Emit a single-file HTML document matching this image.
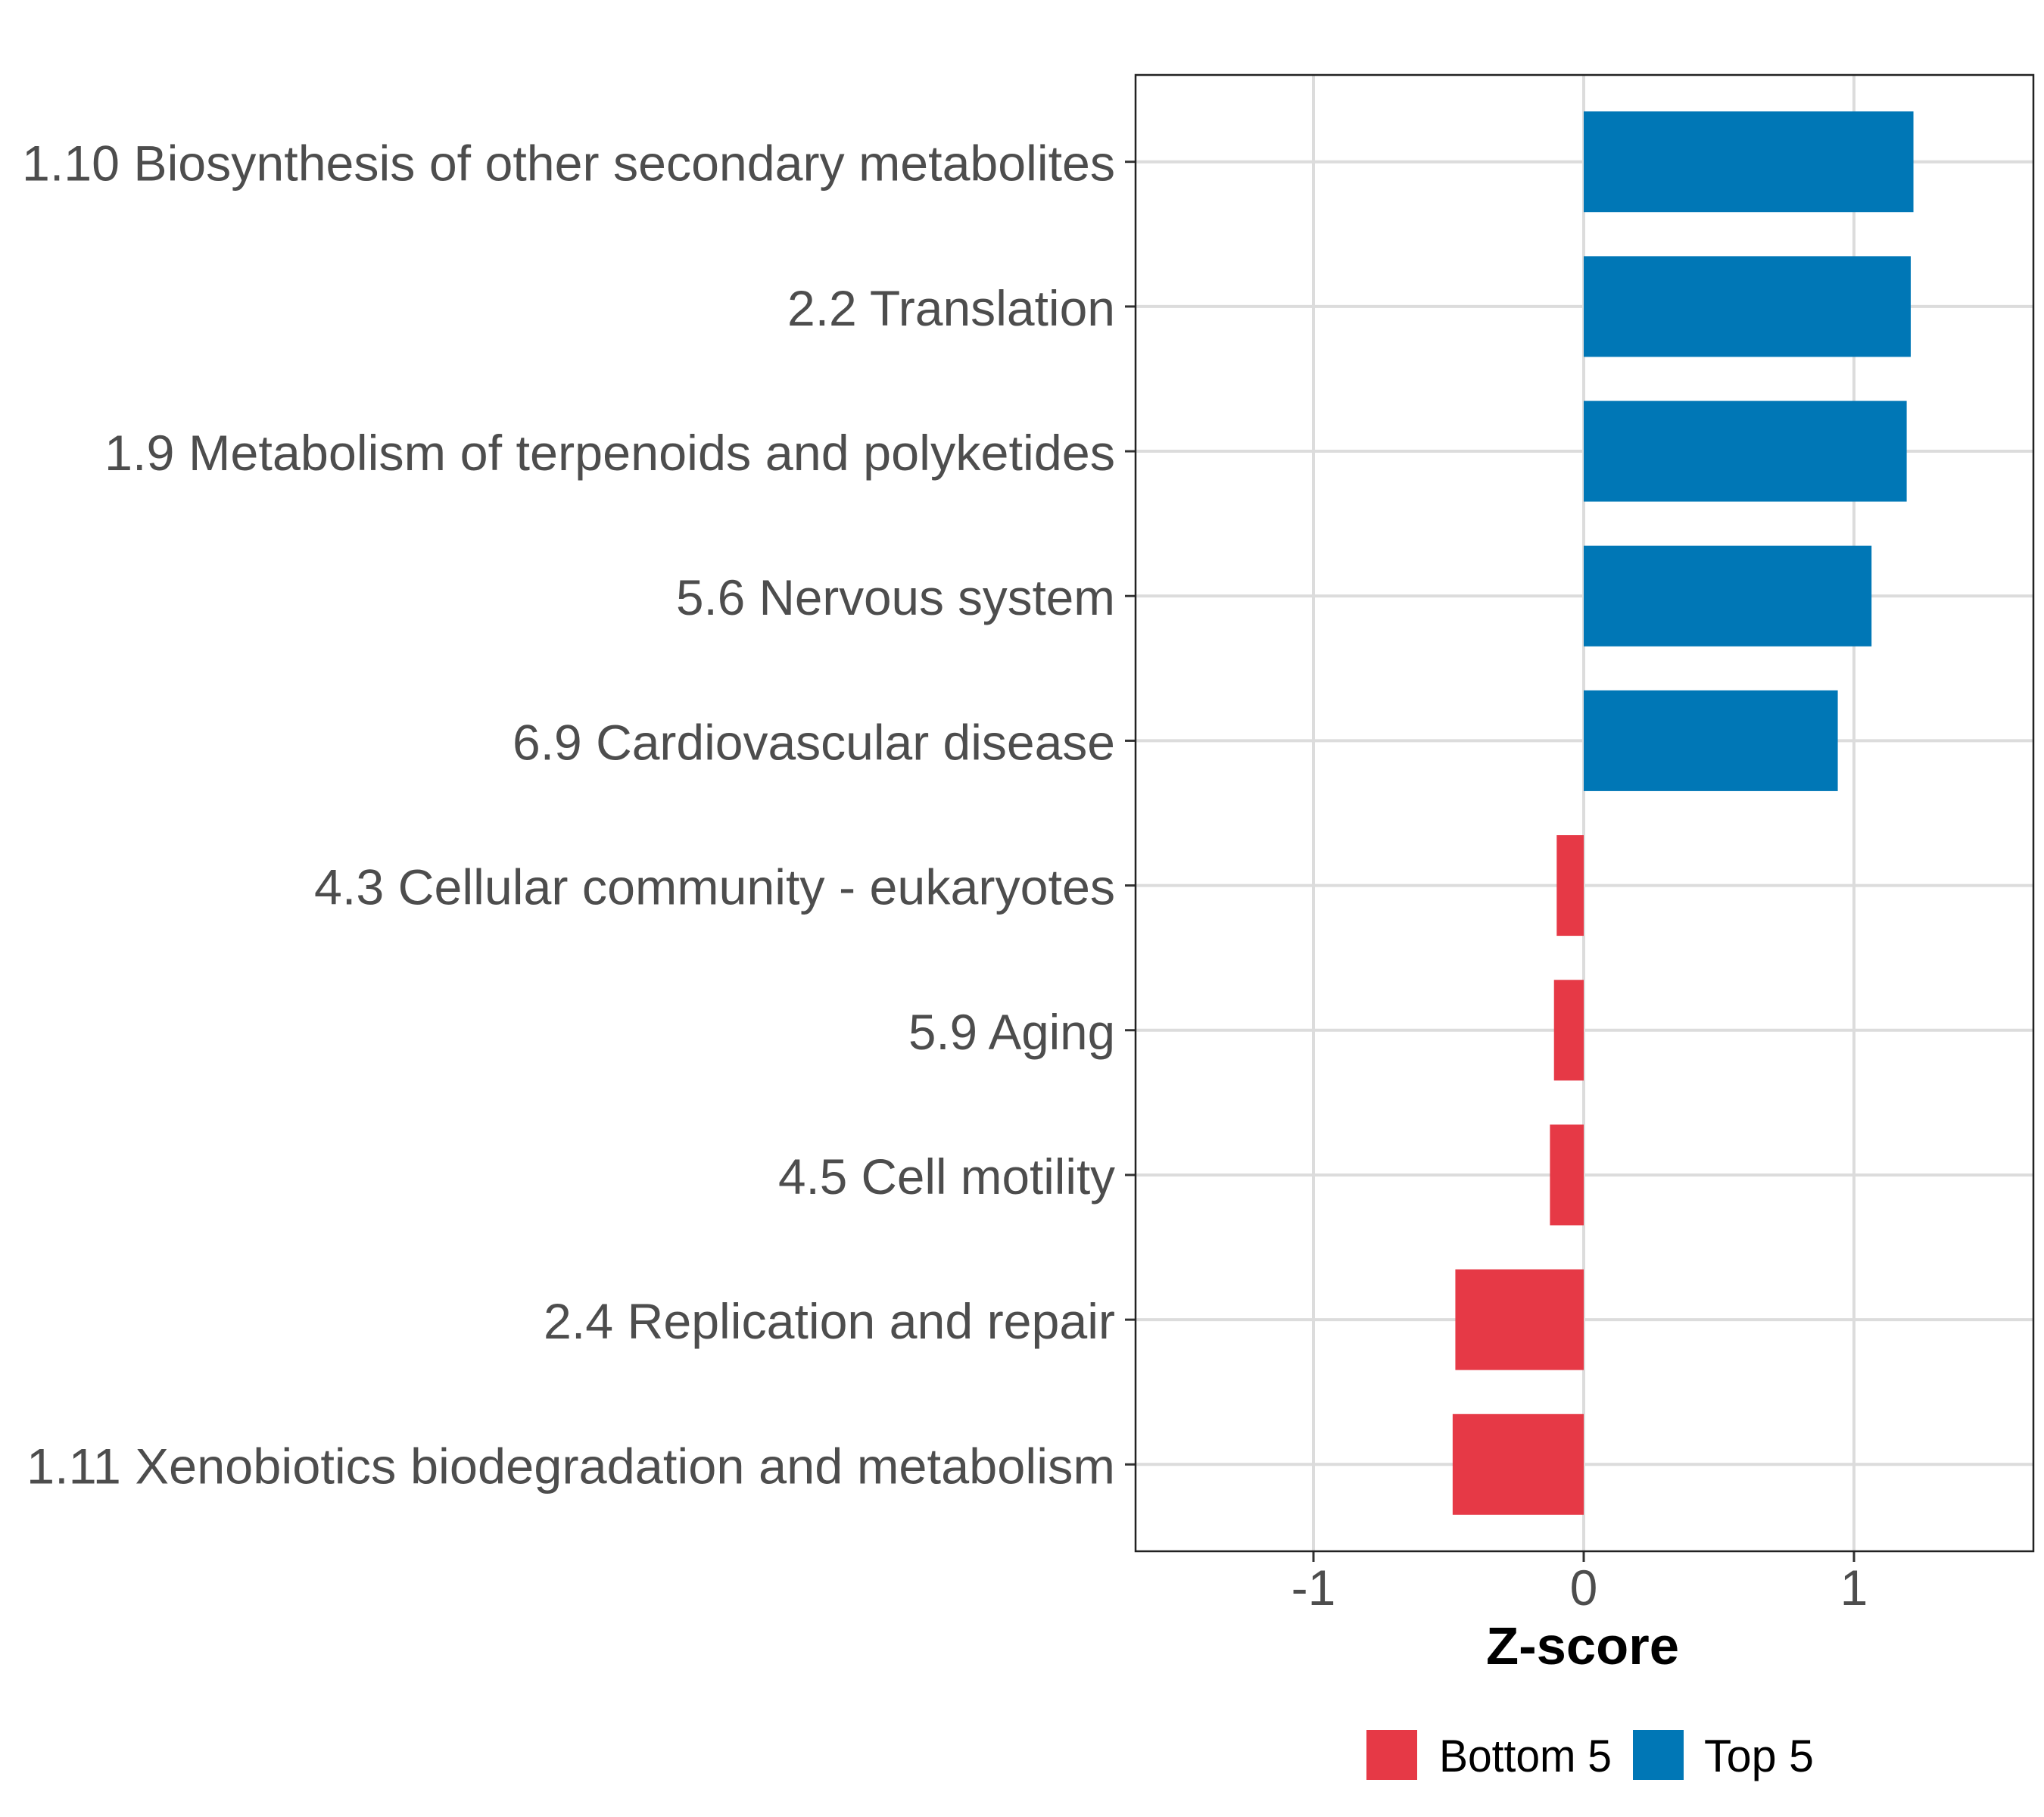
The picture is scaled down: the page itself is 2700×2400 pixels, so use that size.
<!DOCTYPE html>
<html><head><meta charset="utf-8"><style>
html,body{margin:0;padding:0;background:#fff;}
svg{display:block;font-family:"Liberation Sans",Arial,sans-serif;}
</style></head><body>
<svg id="chart" width="2700" height="2400" viewBox="0 0 2700 2400">
<rect x="0" y="0" width="2700" height="2400" fill="#fff"/>
<g id="grid"></g><g id="bars"></g><g id="yaxis"></g><g id="xaxis"></g>
<rect x="1500" y="99" width="1186" height="1950" fill="none" stroke="#222" stroke-width="2.5"/>
<text x="1963" y="2198" font-size="70" font-weight="bold" textLength="255" lengthAdjust="spacingAndGlyphs" fill="#000">Z-score</text>
<g>
<rect x="1805" y="2285" width="67" height="66" fill="#E63946"/>
<text x="1901" y="2340" font-size="60" textLength="228" lengthAdjust="spacingAndGlyphs" fill="#000">Bottom 5</text>
<rect x="2157" y="2285" width="67" height="66" fill="#0077B6"/>
<text x="2251" y="2340" font-size="60" textLength="145" lengthAdjust="spacingAndGlyphs" fill="#000">Top 5</text>
</g>
</svg>
<script>
const categories = ["1.10 Biosynthesis of other secondary metabolites","2.2 Translation","1.9 Metabolism of terpenoids and polyketides","5.6 Nervous system","6.9 Cardiovascular disease","4.3 Cellular community - eukaryotes","5.9 Aging","4.5 Cell motility","2.4 Replication and repair","1.11 Xenobiotics biodegradation and metabolism"];
const values = [1.22, 1.21, 1.195, 1.065, 0.94, -0.10, -0.11, -0.125, -0.475, -0.485];
const groups = ["Top 5","Top 5","Top 5","Top 5","Top 5","Bottom 5","Bottom 5","Bottom 5","Bottom 5","Bottom 5"];
const xTicks = [-1, 0, 1];
const xTickLabels = ["-1","0","1"];
const labelStarts = [29, 1040, 138, 893, 677, 415, 1200, 1028, 718, 35];

const NS="http://www.w3.org/2000/svg";
const pL=1500, pR=2686, pT=99, pB=2049;
function xs(v){return 2092+v*357;}
const step=(pB-pT)/(categories.length-1+1.2);
function ys(i){return pT+0.6*step+i*step;}
const colors={"Top 5":"#0077B6","Bottom 5":"#E63946"};
function mk(tag,attrs,parent){const e=document.createElementNS(NS,tag);for(const k in attrs)e.setAttribute(k,attrs[k]);document.getElementById(parent).appendChild(e);return e;}

xTicks.forEach((t,i)=>{
  const g=mk("line",{x1:xs(t),x2:xs(t),y1:pT,y2:pB,stroke:"#dcdcdc","stroke-width":4},"grid");
  
  
  const tk=mk("line",{x1:xs(t),x2:xs(t),y1:pB,y2:pB+14,stroke:"#333","stroke-width":3},"xaxis");
  
  
  const tl=mk("text",{x:xs(t),y:2120,"font-size":66,"text-anchor":"middle",fill:"#4d4d4d"},"xaxis");
  tl.textContent=xTickLabels[i];
  
  
});
categories.forEach((c,i)=>{
  const y=ys(i);
  const g=mk("line",{x1:pL,x2:pR,y1:y,y2:y,stroke:"#dcdcdc","stroke-width":4},"grid");
  
  
  const v=values[i];
  const bh=133;
  const b=mk("rect",{x:Math.min(xs(0),xs(v)),y:y-bh/2,width:Math.abs(xs(v)-xs(0)),height:bh,fill:colors[groups[i]]},"bars");
  
  
  const tk=mk("line",{x1:pL-14,x2:pL,y1:y,y2:y,stroke:"#333","stroke-width":3},"yaxis");
  
  
  const tl=mk("text",{x:labelStarts[i],y:y+25,"font-size":66,textLength:1473-labelStarts[i],lengthAdjust:"spacingAndGlyphs",fill:"#4d4d4d"},"yaxis");
  tl.textContent=c;
  
  
});
</script>
</body></html>
